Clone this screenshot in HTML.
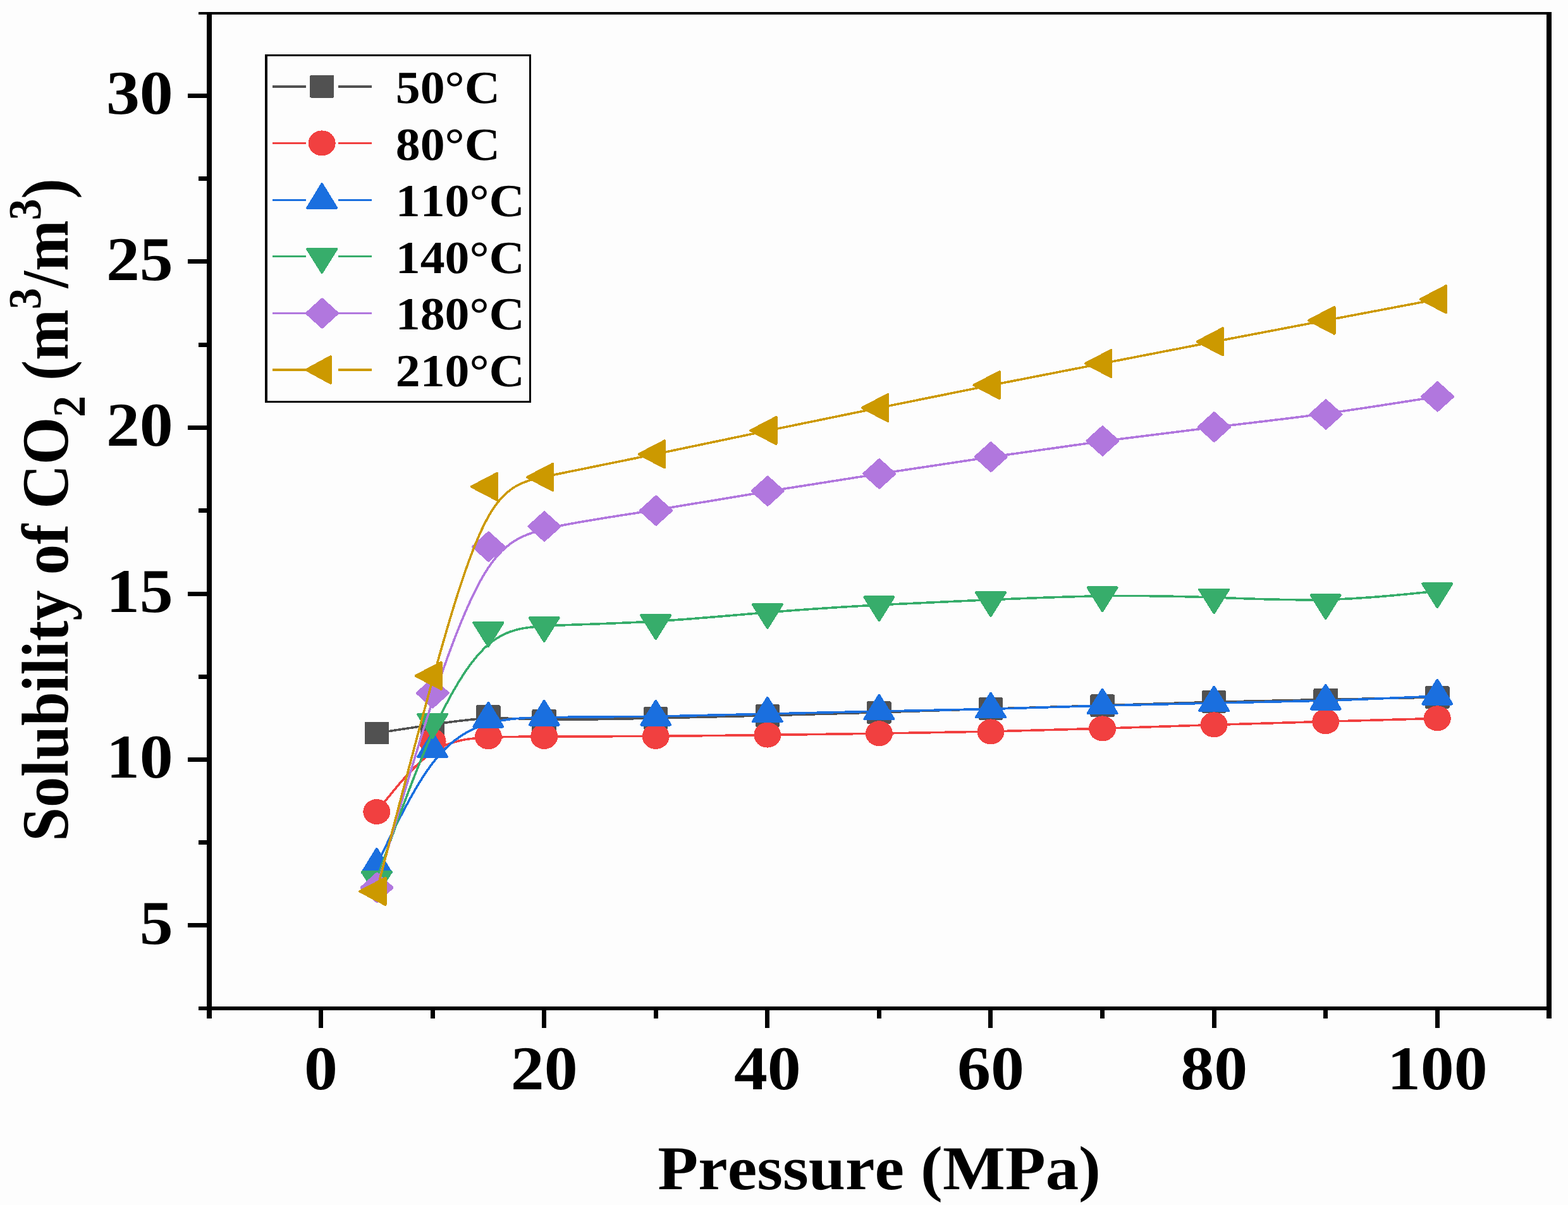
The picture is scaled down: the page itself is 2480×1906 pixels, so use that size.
<!DOCTYPE html>
<html lang="en">
<head>
<meta charset="utf-8">
<title>Solubility of CO2 vs Pressure</title>
<style>
html,body{margin:0;padding:0;background:#fdfdfd;}
body{width:2480px;height:1906px;overflow:hidden;}
svg{display:block;}
text{font-family:"Liberation Serif",serif;font-weight:bold;fill:#000;font-kerning:none;font-variant-ligatures:none;font-feature-settings:"kern" 0,"liga" 0;text-rendering:geometricPrecision;}
</style>
</head>
<body>
<svg width="2480" height="1906" viewBox="0 0 2480 1906">
<rect x="0" y="0" width="2480" height="1906" fill="#fdfdfd"/>

<g id="plot" fill="none" shape-rendering="crispEdges">
<path d="M595.79,1159.5 C625.22,1155 654.65,1150.5 684.08,1146.08 C713.51,1141.67 742.94,1137.33 772.37,1136.32 C801.8,1135.3 831.23,1137.6 875.38,1138.1 C919.52,1138.6 978.38,1137.3 1037.24,1135.98 C1096.1,1134.67 1154.96,1133.33 1213.82,1131.83 C1272.68,1130.33 1331.54,1128.67 1390.4,1126.82 C1449.26,1124.97 1508.12,1122.93 1566.98,1121.12 C1625.84,1119.3 1684.7,1117.7 1743.56,1115.87 C1802.42,1114.03 1861.28,1111.97 1920.14,1110.35 C1979,1108.73 2037.86,1107.57 2096.72,1106.42 C2155.58,1105.27 2214.44,1104.13 2273.3,1103" stroke="#515151" stroke-width="3.6" fill="none" stroke-linecap="butt"/>
<rect x="576.54" y="1141.75" width="38.5" height="35.5" rx="2" fill="#515151"/>
<rect x="664.83" y="1128.25" width="38.5" height="35.5" rx="2" fill="#515151"/>
<rect x="753.12" y="1115.25" width="38.5" height="35.5" rx="2" fill="#515151"/>
<rect x="841.41" y="1122.15" width="38.5" height="35.5" rx="2" fill="#515151"/>
<rect x="1017.99" y="1118.25" width="38.5" height="35.5" rx="2" fill="#515151"/>
<rect x="1194.57" y="1114.25" width="38.5" height="35.5" rx="2" fill="#515151"/>
<rect x="1371.15" y="1109.25" width="38.5" height="35.5" rx="2" fill="#515151"/>
<rect x="1547.73" y="1103.15" width="38.5" height="35.5" rx="2" fill="#515151"/>
<rect x="1724.31" y="1098.35" width="38.5" height="35.5" rx="2" fill="#515151"/>
<rect x="1900.89" y="1092.15" width="38.5" height="35.5" rx="2" fill="#515151"/>
<rect x="2077.47" y="1088.65" width="38.5" height="35.5" rx="2" fill="#515151"/>
<rect x="2254.05" y="1085.25" width="38.5" height="35.5" rx="2" fill="#515151"/>
<path d="M595.79,1284 C625.22,1246.83 654.65,1209.67 684.08,1189.88 C713.51,1170.1 742.94,1167.7 772.37,1166.43 C801.8,1165.17 831.23,1165.03 875.38,1164.97 C919.52,1164.9 978.38,1164.9 1037.24,1164.52 C1096.1,1164.13 1154.96,1163.37 1213.82,1162.58 C1272.68,1161.8 1331.54,1161 1390.4,1160.13 C1449.26,1159.27 1508.12,1158.33 1566.98,1157.03 C1625.84,1155.73 1684.7,1154.07 1743.56,1152.22 C1802.42,1150.37 1861.28,1148.33 1920.14,1146.48 C1979,1144.63 2037.86,1142.97 2096.72,1141.3 C2155.58,1139.63 2214.44,1137.97 2273.3,1136.3" stroke="#F14040" stroke-width="3.6" fill="none" stroke-linecap="butt"/>
<ellipse cx="595.79" cy="1284" rx="21.5" ry="20" fill="#F14040"/>
<ellipse cx="684.08" cy="1172.5" rx="21.5" ry="20" fill="#F14040"/>
<ellipse cx="772.37" cy="1165.3" rx="21.5" ry="20" fill="#F14040"/>
<ellipse cx="860.66" cy="1164.9" rx="21.5" ry="20" fill="#F14040"/>
<ellipse cx="1037.24" cy="1164.9" rx="21.5" ry="20" fill="#F14040"/>
<ellipse cx="1213.82" cy="1162.6" rx="21.5" ry="20" fill="#F14040"/>
<ellipse cx="1390.4" cy="1160.2" rx="21.5" ry="20" fill="#F14040"/>
<ellipse cx="1566.98" cy="1157.4" rx="21.5" ry="20" fill="#F14040"/>
<ellipse cx="1743.56" cy="1152.4" rx="21.5" ry="20" fill="#F14040"/>
<ellipse cx="1920.14" cy="1146.3" rx="21.5" ry="20" fill="#F14040"/>
<ellipse cx="2096.72" cy="1141.3" rx="21.5" ry="20" fill="#F14040"/>
<ellipse cx="2273.3" cy="1136.3" rx="21.5" ry="20" fill="#F14040"/>
<path d="M595.79,1368 C625.22,1306.87 654.65,1245.73 684.08,1207.23 C713.51,1168.73 742.94,1152.87 772.37,1144.43 C801.8,1136 831.23,1135 875.38,1134.5 C919.52,1134 978.38,1134 1037.24,1133.15 C1096.1,1132.3 1154.96,1130.6 1213.82,1129.08 C1272.68,1127.57 1331.54,1126.23 1390.4,1125.07 C1449.26,1123.9 1508.12,1122.9 1566.98,1121.38 C1625.84,1119.87 1684.7,1117.83 1743.56,1116.15 C1802.42,1114.47 1861.28,1113.13 1920.14,1112 C1979,1110.87 2037.86,1109.93 2096.72,1108.13 C2155.58,1106.33 2214.44,1103.67 2273.3,1101" stroke="#1A6FDF" stroke-width="3.6" fill="none" stroke-linecap="butt"/>
<polygon points="595.79,1342.8 618.79,1380.5 572.79,1380.5" fill="#1A6FDF" stroke="#1A6FDF" stroke-width="4" stroke-linejoin="round"/>
<polygon points="684.08,1159.4 707.08,1197.1 661.08,1197.1" fill="#1A6FDF" stroke="#1A6FDF" stroke-width="4" stroke-linejoin="round"/>
<polygon points="772.37,1111.8 795.37,1149.5 749.37,1149.5" fill="#1A6FDF" stroke="#1A6FDF" stroke-width="4" stroke-linejoin="round"/>
<polygon points="860.66,1108.8 883.66,1146.5 837.66,1146.5" fill="#1A6FDF" stroke="#1A6FDF" stroke-width="4" stroke-linejoin="round"/>
<polygon points="1037.24,1108.8 1060.24,1146.5 1014.24,1146.5" fill="#1A6FDF" stroke="#1A6FDF" stroke-width="4" stroke-linejoin="round"/>
<polygon points="1213.82,1103.7 1236.82,1141.4 1190.82,1141.4" fill="#1A6FDF" stroke="#1A6FDF" stroke-width="4" stroke-linejoin="round"/>
<polygon points="1390.4,1099.7 1413.4,1137.4 1367.4,1137.4" fill="#1A6FDF" stroke="#1A6FDF" stroke-width="4" stroke-linejoin="round"/>
<polygon points="1566.98,1096.7 1589.98,1134.4 1543.98,1134.4" fill="#1A6FDF" stroke="#1A6FDF" stroke-width="4" stroke-linejoin="round"/>
<polygon points="1743.56,1090.6 1766.56,1128.3 1720.56,1128.3" fill="#1A6FDF" stroke="#1A6FDF" stroke-width="4" stroke-linejoin="round"/>
<polygon points="1920.14,1086.6 1943.14,1124.3 1897.14,1124.3" fill="#1A6FDF" stroke="#1A6FDF" stroke-width="4" stroke-linejoin="round"/>
<polygon points="2096.72,1083.8 2119.72,1121.5 2073.72,1121.5" fill="#1A6FDF" stroke="#1A6FDF" stroke-width="4" stroke-linejoin="round"/>
<polygon points="2273.3,1075.8 2296.3,1113.5 2250.3,1113.5" fill="#1A6FDF" stroke="#1A6FDF" stroke-width="4" stroke-linejoin="round"/>
<path d="M595.79,1390.8 C625.22,1307.73 654.65,1224.67 684.08,1158.98 C713.51,1093.3 742.94,1045 772.37,1019.53 C801.8,994.07 831.23,991.43 875.38,989.47 C919.52,987.5 978.38,986.2 1037.24,982.7 C1096.1,979.2 1154.96,973.5 1213.82,968.68 C1272.68,963.87 1331.54,959.93 1390.4,956.77 C1449.26,953.6 1508.12,951.2 1566.98,948.68 C1625.84,946.17 1684.7,943.53 1743.56,942.75 C1802.42,941.97 1861.28,943.03 1920.14,945.05 C1979,947.07 2037.86,950.03 2096.72,948.52 C2155.58,947 2214.44,941 2273.3,935" stroke="#37AD6B" stroke-width="3.6" fill="none" stroke-linecap="butt"/>
<polygon points="572.79,1379.2 618.79,1379.2 595.79,1416" fill="#37AD6B" stroke="#37AD6B" stroke-width="4" stroke-linejoin="round"/>
<polygon points="661.08,1130 707.08,1130 684.08,1166.8" fill="#37AD6B" stroke="#37AD6B" stroke-width="4" stroke-linejoin="round"/>
<polygon points="749.37,985.1 795.37,985.1 772.37,1021.9" fill="#37AD6B" stroke="#37AD6B" stroke-width="4" stroke-linejoin="round"/>
<polygon points="837.66,977.2 883.66,977.2 860.66,1014" fill="#37AD6B" stroke="#37AD6B" stroke-width="4" stroke-linejoin="round"/>
<polygon points="1014.24,973.3 1060.24,973.3 1037.24,1010.1" fill="#37AD6B" stroke="#37AD6B" stroke-width="4" stroke-linejoin="round"/>
<polygon points="1190.82,956.2 1236.82,956.2 1213.82,993" fill="#37AD6B" stroke="#37AD6B" stroke-width="4" stroke-linejoin="round"/>
<polygon points="1367.4,944.4 1413.4,944.4 1390.4,981.2" fill="#37AD6B" stroke="#37AD6B" stroke-width="4" stroke-linejoin="round"/>
<polygon points="1543.98,937.2 1589.98,937.2 1566.98,974" fill="#37AD6B" stroke="#37AD6B" stroke-width="4" stroke-linejoin="round"/>
<polygon points="1720.56,929.3 1766.56,929.3 1743.56,966.1" fill="#37AD6B" stroke="#37AD6B" stroke-width="4" stroke-linejoin="round"/>
<polygon points="1897.14,932.5 1943.14,932.5 1920.14,969.3" fill="#37AD6B" stroke="#37AD6B" stroke-width="4" stroke-linejoin="round"/>
<polygon points="2073.72,941.4 2119.72,941.4 2096.72,978.2" fill="#37AD6B" stroke="#37AD6B" stroke-width="4" stroke-linejoin="round"/>
<polygon points="2250.3,923.4 2296.3,923.4 2273.3,960.2" fill="#37AD6B" stroke="#37AD6B" stroke-width="4" stroke-linejoin="round"/>
<path d="M595.79,1404 C625.22,1301.43 654.65,1198.87 684.08,1108.97 C713.51,1019.07 742.94,941.83 772.37,897.88 C801.8,853.93 831.23,843.27 875.38,833.77 C919.52,824.27 978.38,815.93 1037.24,806.62 C1096.1,797.3 1154.96,787 1213.82,777.3 C1272.68,767.6 1331.54,758.5 1390.4,749.5 C1449.26,740.5 1508.12,731.6 1566.98,722.93 C1625.84,714.27 1684.7,705.83 1743.56,697.95 C1802.42,690.07 1861.28,682.73 1920.14,675.75 C1979,668.77 2037.86,662.13 2096.72,654.12 C2155.58,646.1 2214.44,636.7 2273.3,627.3" stroke="#B177DE" stroke-width="3.6" fill="none" stroke-linecap="butt"/>
<polygon points="596.09,1381.8 620.59,1404 596.09,1426.2 571.59,1404" fill="#B177DE" stroke="#B177DE" stroke-width="4" stroke-linejoin="round"/>
<polygon points="684.38,1074.1 708.88,1096.3 684.38,1118.5 659.88,1096.3" fill="#B177DE" stroke="#B177DE" stroke-width="4" stroke-linejoin="round"/>
<polygon points="772.67,842.4 797.17,864.6 772.67,886.8 748.17,864.6" fill="#B177DE" stroke="#B177DE" stroke-width="4" stroke-linejoin="round"/>
<polygon points="860.96,810.4 885.46,832.6 860.96,854.8 836.46,832.6" fill="#B177DE" stroke="#B177DE" stroke-width="4" stroke-linejoin="round"/>
<polygon points="1037.54,785.4 1062.04,807.6 1037.54,829.8 1013.04,807.6" fill="#B177DE" stroke="#B177DE" stroke-width="4" stroke-linejoin="round"/>
<polygon points="1214.12,754.5 1238.62,776.7 1214.12,798.9 1189.62,776.7" fill="#B177DE" stroke="#B177DE" stroke-width="4" stroke-linejoin="round"/>
<polygon points="1390.7,727.2 1415.2,749.4 1390.7,771.6 1366.2,749.4" fill="#B177DE" stroke="#B177DE" stroke-width="4" stroke-linejoin="round"/>
<polygon points="1567.28,700.5 1591.78,722.7 1567.28,744.9 1542.78,722.7" fill="#B177DE" stroke="#B177DE" stroke-width="4" stroke-linejoin="round"/>
<polygon points="1743.86,675.2 1768.36,697.4 1743.86,719.6 1719.36,697.4" fill="#B177DE" stroke="#B177DE" stroke-width="4" stroke-linejoin="round"/>
<polygon points="1920.44,653.2 1944.94,675.4 1920.44,697.6 1895.94,675.4" fill="#B177DE" stroke="#B177DE" stroke-width="4" stroke-linejoin="round"/>
<polygon points="2097.02,633.3 2121.52,655.5 2097.02,677.7 2072.52,655.5" fill="#B177DE" stroke="#B177DE" stroke-width="4" stroke-linejoin="round"/>
<polygon points="2273.6,605.1 2298.1,627.3 2273.6,649.5 2249.1,627.3" fill="#B177DE" stroke="#B177DE" stroke-width="4" stroke-linejoin="round"/>
<path d="M595.79,1409.9 C625.22,1296.27 654.65,1182.63 684.08,1075.95 C713.51,969.27 742.94,869.53 772.37,817.15 C801.8,764.77 831.23,759.73 875.38,751.17 C919.52,742.6 978.38,730.5 1037.24,718.23 C1096.1,705.97 1154.96,693.53 1213.82,681.3 C1272.68,669.07 1331.54,657.03 1390.4,645.05 C1449.26,633.07 1508.12,621.13 1566.98,609.47 C1625.84,597.8 1684.7,586.4 1743.56,574.93 C1802.42,563.47 1861.28,551.93 1920.14,540.57 C1979,529.2 2037.86,518 2096.72,506.83 C2155.58,495.67 2214.44,484.53 2273.3,473.4" stroke="#CC9900" stroke-width="3.6" fill="none" stroke-linecap="butt"/>
<polygon points="569.29,1409.9 609.59,1388.9 609.59,1430.9" fill="#CC9900" stroke="#CC9900" stroke-width="4" stroke-linejoin="round"/>
<polygon points="657.58,1069 697.88,1048 697.88,1090" fill="#CC9900" stroke="#CC9900" stroke-width="4" stroke-linejoin="round"/>
<polygon points="745.87,769.8 786.17,748.8 786.17,790.8" fill="#CC9900" stroke="#CC9900" stroke-width="4" stroke-linejoin="round"/>
<polygon points="834.16,754.7 874.46,733.7 874.46,775.7" fill="#CC9900" stroke="#CC9900" stroke-width="4" stroke-linejoin="round"/>
<polygon points="1010.74,718.4 1051.04,697.4 1051.04,739.4" fill="#CC9900" stroke="#CC9900" stroke-width="4" stroke-linejoin="round"/>
<polygon points="1187.32,681.1 1227.62,660.1 1227.62,702.1" fill="#CC9900" stroke="#CC9900" stroke-width="4" stroke-linejoin="round"/>
<polygon points="1363.9,645 1404.2,624 1404.2,666" fill="#CC9900" stroke="#CC9900" stroke-width="4" stroke-linejoin="round"/>
<polygon points="1540.48,609.2 1580.78,588.2 1580.78,630.2" fill="#CC9900" stroke="#CC9900" stroke-width="4" stroke-linejoin="round"/>
<polygon points="1717.06,575 1757.36,554 1757.36,596" fill="#CC9900" stroke="#CC9900" stroke-width="4" stroke-linejoin="round"/>
<polygon points="1893.64,540.4 1933.94,519.4 1933.94,561.4" fill="#CC9900" stroke="#CC9900" stroke-width="4" stroke-linejoin="round"/>
<polygon points="2070.22,506.8 2110.52,485.8 2110.52,527.8" fill="#CC9900" stroke="#CC9900" stroke-width="4" stroke-linejoin="round"/>
<polygon points="2246.8,473.4 2287.1,452.4 2287.1,494.4" fill="#CC9900" stroke="#CC9900" stroke-width="4" stroke-linejoin="round"/>
</g>
<g id="axes" fill="#000" shape-rendering="crispEdges">
<rect x="327" y="19" width="8" height="1592"/>
<rect x="2446" y="19" width="8" height="1592"/>
<rect x="314" y="19" width="2140" height="4"/>
<rect x="314" y="1592" width="2140" height="6"/>
<rect x="297" y="1460" width="31" height="7"/>
<rect x="297" y="1198" width="31" height="7"/>
<rect x="297" y="936" width="31" height="7"/>
<rect x="297" y="673" width="31" height="7"/>
<rect x="297" y="410" width="31" height="7"/>
<rect x="297" y="148" width="31" height="7"/>
<rect x="314" y="1329" width="14" height="7"/>
<rect x="314" y="1067" width="14" height="7"/>
<rect x="314" y="804" width="14" height="7"/>
<rect x="314" y="542" width="14" height="7"/>
<rect x="314" y="279" width="14" height="7"/>
<rect x="504" y="1596" width="7" height="30"/>
<rect x="857" y="1596" width="7" height="30"/>
<rect x="1210" y="1596" width="7" height="30"/>
<rect x="1563" y="1596" width="7" height="30"/>
<rect x="1917" y="1596" width="7" height="30"/>
<rect x="2270" y="1596" width="7" height="30"/>
<rect x="681" y="1596" width="7" height="15"/>
<rect x="1034" y="1596" width="7" height="15"/>
<rect x="1387" y="1596" width="7" height="15"/>
<rect x="1740" y="1596" width="7" height="15"/>
<rect x="2093" y="1596" width="7" height="15"/>
</g>
<g id="ticklabels" font-size="98.5">
<text transform="translate(273.8,1492.7) scale(1.075,1)" text-anchor="end">5</text>
<text transform="translate(273.8,1230.2) scale(1.075,1)" text-anchor="end">10</text>
<text transform="translate(273.8,967.7) scale(1.075,1)" text-anchor="end">15</text>
<text transform="translate(273.8,705.2) scale(1.075,1)" text-anchor="end">20</text>
<text transform="translate(273.8,442.7) scale(1.075,1)" text-anchor="end">25</text>
<text transform="translate(273.8,180.2) scale(1.075,1)" text-anchor="end">30</text>
<text transform="translate(507.5,1722.6) scale(1.075,1)" text-anchor="middle">0</text>
<text transform="translate(860.66,1722.6) scale(1.075,1)" text-anchor="middle">20</text>
<text transform="translate(1213.82,1722.6) scale(1.075,1)" text-anchor="middle">40</text>
<text transform="translate(1566.98,1722.6) scale(1.075,1)" text-anchor="middle">60</text>
<text transform="translate(1920.14,1722.6) scale(1.075,1)" text-anchor="middle">80</text>
<text transform="translate(2273.3,1722.6) scale(1.075,1)" text-anchor="middle">100</text>
</g>
<text font-size="98.5" transform="translate(1390.6,1881.3) scale(1.063,1)" text-anchor="middle">Pressure (MPa)</text>
<text font-size="96.6" transform="translate(107.3,1330.7) scale(1.085,1) rotate(-90)">Solubility of CO<tspan font-size="67.5" dy="25">2</tspan><tspan dy="-25"> (m</tspan><tspan font-size="67.5" dy="-40.2">3</tspan><tspan dy="40.2">/m</tspan><tspan font-size="67.5" dy="-40.2">3</tspan><tspan dy="40.2">)</tspan></text>
<g id="legend" shape-rendering="crispEdges">
<rect x="420.9" y="87.6" width="417.6" height="547.8" fill="none" stroke="#000" stroke-width="3.6"/>
<rect x="431" y="135.1" width="53" height="3.6" fill="#515151"/>
<rect x="535" y="135.1" width="53" height="3.6" fill="#515151"/>
<rect x="489.95" y="119.15" width="38.5" height="35.5" rx="2" fill="#515151"/>
<text font-size="72.8" transform="translate(625.8,163.2) scale(1.068,1)">50°C</text>
<rect x="431" y="224.6" width="53" height="3.6" fill="#F14040"/>
<rect x="535" y="224.6" width="53" height="3.6" fill="#F14040"/>
<ellipse cx="509.2" cy="226.4" rx="21.5" ry="20" fill="#F14040"/>
<text font-size="72.8" transform="translate(625.8,252.8) scale(1.068,1)">80°C</text>
<rect x="431" y="314.7" width="53" height="3.6" fill="#1A6FDF"/>
<rect x="535" y="314.7" width="53" height="3.6" fill="#1A6FDF"/>
<polygon points="509.2,291.3 532.2,329 486.2,329" fill="#1A6FDF" stroke="#1A6FDF" stroke-width="4" stroke-linejoin="round"/>
<text font-size="72.8" transform="translate(625.8,342.2) scale(1.068,1)">110°C</text>
<rect x="431" y="403.7" width="53" height="3.6" fill="#37AD6B"/>
<rect x="535" y="403.7" width="53" height="3.6" fill="#37AD6B"/>
<polygon points="486.2,393.9 532.2,393.9 509.2,430.7" fill="#37AD6B" stroke="#37AD6B" stroke-width="4" stroke-linejoin="round"/>
<text font-size="72.8" transform="translate(625.8,431.8) scale(1.068,1)">140°C</text>
<rect x="431" y="493.7" width="53" height="3.6" fill="#B177DE"/>
<rect x="535" y="493.7" width="53" height="3.6" fill="#B177DE"/>
<polygon points="509.5,473.3 534,495.5 509.5,517.7 485,495.5" fill="#B177DE" stroke="#B177DE" stroke-width="4" stroke-linejoin="round"/>
<text font-size="72.8" transform="translate(625.8,521.3) scale(1.068,1)">180°C</text>
<rect x="431" y="583.2" width="53" height="3.6" fill="#CC9900"/>
<rect x="535" y="583.2" width="53" height="3.6" fill="#CC9900"/>
<polygon points="484.6,585 523,564 523,606" fill="#CC9900" stroke="#CC9900" stroke-width="4" stroke-linejoin="round"/>
<text font-size="72.8" transform="translate(625.8,610.8) scale(1.068,1)">210°C</text>
</g>
</svg>
</body>
</html>
